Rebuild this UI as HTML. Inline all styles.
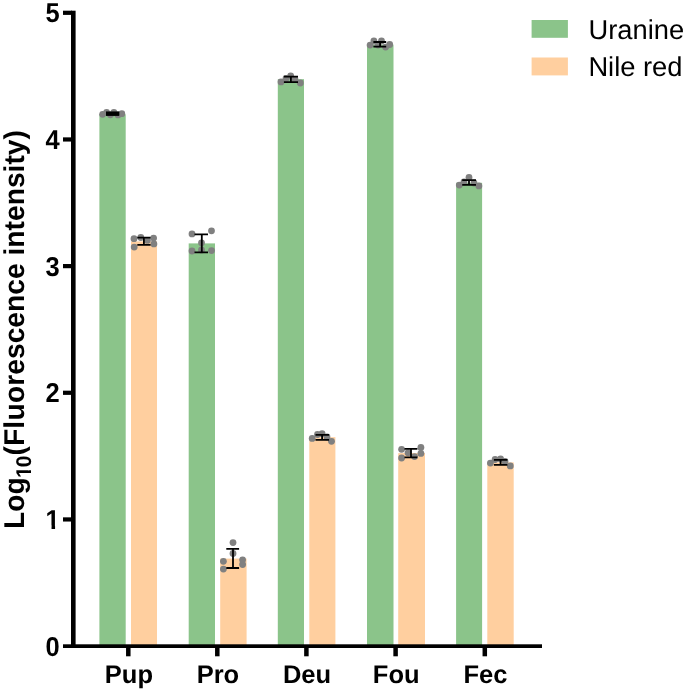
<!DOCTYPE html>
<html lang="en"><head><meta charset="utf-8"><title>Fluorescence intensity</title>
<style>html,body{margin:0;padding:0;background:#fff;}svg{display:block;}text{text-rendering:geometricPrecision;font-family:"Liberation Sans",Arial,Helvetica,sans-serif;fill:#000;}</style>
</head><body>
<svg width="685" height="693" viewBox="0 0 685 693">
<rect x="0" y="0" width="685" height="693" fill="#ffffff"/>
<rect x="99.4" y="114.3" width="26.3" height="531.8" fill="#8bc48a"/>
<rect x="131.0" y="241.4" width="26.0" height="404.7" fill="#ffcf9f"/>
<rect x="188.7" y="243.4" width="26.3" height="402.7" fill="#8bc48a"/>
<rect x="220.2" y="558.6" width="26.4" height="87.5" fill="#ffcf9f"/>
<rect x="277.8" y="79.2" width="26.2" height="566.9" fill="#8bc48a"/>
<rect x="309.3" y="437.2" width="26.1" height="208.9" fill="#ffcf9f"/>
<rect x="367.0" y="44.7" width="26.5" height="601.4" fill="#8bc48a"/>
<rect x="398.2" y="453.1" width="26.8" height="193.0" fill="#ffcf9f"/>
<rect x="456.1" y="182.8" width="26.0" height="463.3" fill="#8bc48a"/>
<rect x="487.3" y="462.4" width="26.4" height="183.7" fill="#ffcf9f"/>
<g fill="#808080">
<circle cx="102.6" cy="114.3" r="3.4"/>
<circle cx="106.6" cy="112.5" r="3.4"/>
<circle cx="110.4" cy="114.8" r="3.4"/>
<circle cx="113.9" cy="112.5" r="3.4"/>
<circle cx="118.0" cy="114.9" r="3.4"/>
<circle cx="121.8" cy="113.7" r="3.4"/>
<circle cx="134.0" cy="238.7" r="3.4"/>
<circle cx="140.8" cy="237.5" r="3.4"/>
<circle cx="153.6" cy="238.1" r="3.4"/>
<circle cx="134.2" cy="247.1" r="3.4"/>
<circle cx="153.9" cy="243.9" r="3.4"/>
<circle cx="147.4" cy="240.4" r="3.4"/>
<circle cx="192.0" cy="233.9" r="3.4"/>
<circle cx="211.5" cy="230.8" r="3.4"/>
<circle cx="201.5" cy="242.8" r="3.4"/>
<circle cx="192.0" cy="251.0" r="3.4"/>
<circle cx="201.5" cy="250.0" r="3.4"/>
<circle cx="211.5" cy="250.6" r="3.4"/>
<circle cx="233.0" cy="542.6" r="3.4"/>
<circle cx="233.0" cy="553.4" r="3.4"/>
<circle cx="223.4" cy="561.3" r="3.4"/>
<circle cx="242.6" cy="559.8" r="3.4"/>
<circle cx="242.6" cy="564.5" r="3.4"/>
<circle cx="223.4" cy="569.1" r="3.4"/>
<circle cx="290.7" cy="76.0" r="3.4"/>
<circle cx="281.0" cy="81.9" r="3.4"/>
<circle cx="300.3" cy="83.0" r="3.4"/>
<circle cx="286.0" cy="78.5" r="3.4"/>
<circle cx="295.0" cy="79.5" r="3.4"/>
<circle cx="312.2" cy="438.4" r="3.4"/>
<circle cx="331.5" cy="441.3" r="3.4"/>
<circle cx="322.1" cy="433.7" r="3.4"/>
<circle cx="317.5" cy="434.5" r="3.4"/>
<circle cx="327.0" cy="437.0" r="3.4"/>
<circle cx="370.1" cy="45.1" r="3.4"/>
<circle cx="373.9" cy="41.0" r="3.4"/>
<circle cx="381.5" cy="41.0" r="3.4"/>
<circle cx="389.7" cy="44.5" r="3.4"/>
<circle cx="385.6" cy="47.1" r="3.4"/>
<circle cx="378.0" cy="45.1" r="3.4"/>
<circle cx="401.6" cy="449.3" r="3.4"/>
<circle cx="420.9" cy="447.5" r="3.4"/>
<circle cx="420.9" cy="453.4" r="3.4"/>
<circle cx="401.6" cy="458.0" r="3.4"/>
<circle cx="414.5" cy="456.6" r="3.4"/>
<circle cx="408.0" cy="452.8" r="3.4"/>
<circle cx="469.0" cy="177.5" r="3.4"/>
<circle cx="459.3" cy="185.1" r="3.4"/>
<circle cx="478.9" cy="185.9" r="3.4"/>
<circle cx="464.0" cy="182.0" r="3.4"/>
<circle cx="474.0" cy="183.0" r="3.4"/>
<circle cx="490.4" cy="463.1" r="3.4"/>
<circle cx="510.3" cy="465.9" r="3.4"/>
<circle cx="495.1" cy="459.5" r="3.4"/>
<circle cx="500.6" cy="458.9" r="3.4"/>
<circle cx="505.0" cy="461.5" r="3.4"/>
</g>
<rect x="106.0" y="111.6" width="13.2" height="4.2" fill="#000"/>
<g stroke="#000" stroke-width="1.8" fill="none">
<path d="M106.0 112.7H119.2M106.0 114.7H119.2M112.6 112.7V114.7"/>
<path d="M137.3 237.7H150.6M137.3 244.8H150.6M143.9 237.7V244.8"/>
<path d="M194.5 234.3H208.0M194.5 252.4H208.0M201.8 234.3V252.4"/>
<path d="M226.3 548.9H239.1M226.3 568.0H239.1M233.0 548.9V568.0"/>
<path d="M283.9 76.7H298.0M283.9 82.1H298.0M290.9 76.7V82.1"/>
<path d="M315.5 434.9H329.1M315.5 439.8H329.1M322.1 434.9V439.8"/>
<path d="M373.4 42.0H386.2M373.4 46.6H386.2M380.1 42.0V46.6"/>
<path d="M404.5 448.9H417.4M404.5 457.4H417.4M411.0 448.9V457.4"/>
<path d="M462.2 180.1H476.0M462.2 184.8H476.0M469.0 180.1V184.8"/>
<path d="M493.9 459.9H507.4M493.9 464.8H507.4M500.6 459.9V464.8"/>
</g>
<g fill="#000">
<rect x="71.0" y="10.70" width="4.6" height="637.30"/>
<rect x="63" y="644.3" width="479" height="3.7"/>
<rect x="63" y="517.34" width="9" height="4.2"/>
<rect x="63" y="390.68" width="9" height="4.2"/>
<rect x="63" y="264.02" width="9" height="4.2"/>
<rect x="63" y="137.36" width="9" height="4.2"/>
<rect x="63" y="10.70" width="9" height="4.2"/>
<rect x="126.05" y="646.1" width="4.5" height="10.2"/>
<rect x="215.05" y="646.1" width="4.5" height="10.2"/>
<rect x="304.15" y="646.1" width="4.5" height="10.2"/>
<rect x="393.35" y="646.1" width="4.5" height="10.2"/>
<rect x="482.55" y="646.1" width="4.5" height="10.2"/>
</g>
<g font-size="25.5" font-weight="bold">
<text transform="translate(59.7 655.50) scale(1.0 1.07)" text-anchor="end">0</text>
<text transform="translate(59.7 528.84) scale(1.0 1.07)" text-anchor="end">1</text>
<text transform="translate(59.7 402.18) scale(1.0 1.07)" text-anchor="end">2</text>
<text transform="translate(59.7 275.52) scale(1.0 1.07)" text-anchor="end">3</text>
<text transform="translate(59.7 148.86) scale(1.0 1.07)" text-anchor="end">4</text>
<text transform="translate(59.7 22.20) scale(1.0 1.07)" text-anchor="end">5</text>
<text x="128.9" y="683.0" text-anchor="middle">Pup</text>
<text x="217.9" y="683.0" text-anchor="middle">Pro</text>
<text x="307.0" y="683.0" text-anchor="middle">Deu</text>
<text x="396.2" y="683.0" text-anchor="middle">Fou</text>
<text x="485.4" y="683.0" text-anchor="middle">Fec</text>
</g>
<text transform="translate(24.3 528.9) rotate(-90) scale(1 1.015)" font-size="28.22" font-weight="bold">Log<tspan font-size="21" dy="6.21" dx="-0.9 -0.9">10</tspan><tspan dy="-6.21" dx="0.2 0 0 0.3 0.4">(Fluorescence intensity)</tspan></text>
<g fill="#ffffff">
<rect x="46" y="525.6" width="5.54" height="4.4"/>
<rect x="55.08" y="525.6" width="5.4" height="4.4"/>
<rect x="28" y="466.3" width="3.6" height="3.97"/>
<rect x="28" y="473.0" width="3.6" height="4.6"/>
</g>
<rect x="531.6" y="20" width="36.3" height="17.8" fill="#8bc48a"/>
<rect x="531.6" y="57.5" width="36.3" height="17.9" fill="#ffcf9f"/>
<g font-size="27.3">
<text x="588.5" y="38.8">Uranine</text>
<text x="588.4" y="76.3">Nile red</text>
</g>
</svg>
</body></html>
